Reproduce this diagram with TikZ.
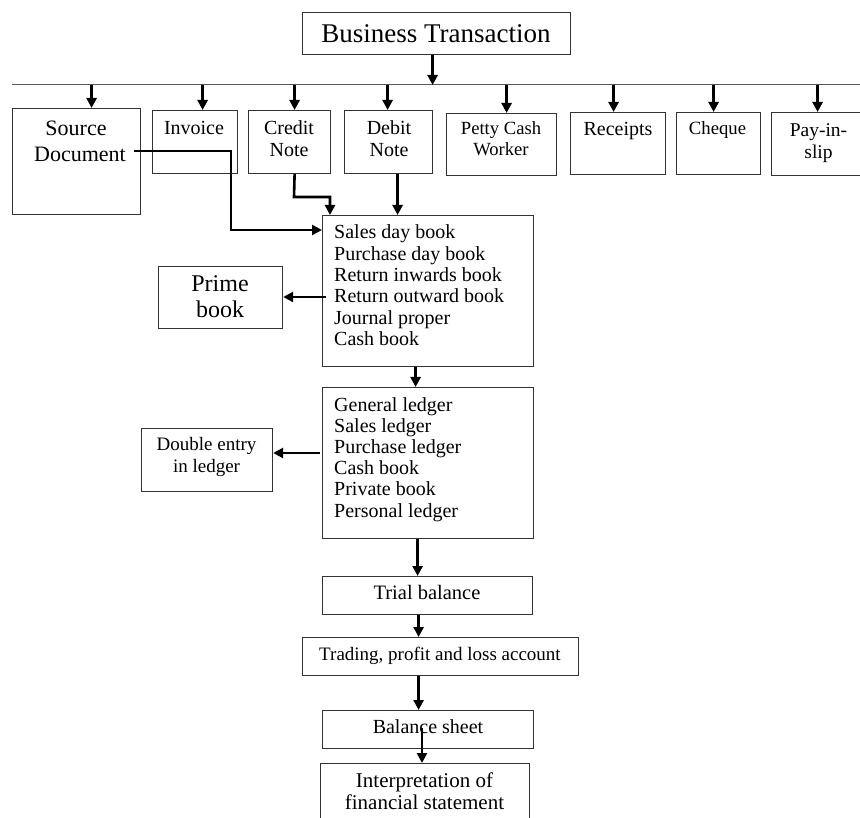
\documentclass[tikz,border=0pt]{standalone}
\usepackage{fontspec}
\setmainfont{Liberation Serif}
\usetikzlibrary{arrows.meta}
\begin{document}
\begin{tikzpicture}[x=1pt,y=-1pt,
  box/.style={draw=black!80, line width=1.2pt, anchor=north west, inner sep=0pt},
  arr/.style={line width=2.6pt, -{Triangle[length=10pt,width=10pt]}},
  txt/.style={anchor=base, inner sep=0pt},
  fs/.style={font=\fontsize{#1}{#1}\selectfont},
]
\useasboundingbox (0,0) rectangle (860,818);

% boxes
\node[box, minimum width=268, minimum height=42] (bt) at (302,12) {};
\node[box, minimum width=128, minimum height=106] (src) at (12,108) {};
\node[box, minimum width=85, minimum height=63] (inv) at (152,110) {};
\node[box, minimum width=82, minimum height=63] (cn) at (248,110) {};
\node[box, minimum width=88, minimum height=63] (dn) at (344,110) {};
\node[box, minimum width=110, minimum height=62] (pc) at (446,113) {};
\node[box, minimum width=95, minimum height=62] (rc) at (570,112) {};
\node[box, minimum width=84, minimum height=62] (ch) at (676,112) {};
\node[box, minimum width=95, minimum height=63] (pis) at (771,112) {};
\node[box, minimum width=211, minimum height=151] (sales) at (322,215) {};
\node[box, minimum width=124, minimum height=62] (prime) at (158,266) {};
\node[box, minimum width=211, minimum height=151] (ledger) at (322,387) {};
\node[box, minimum width=131, minimum height=63] (de) at (141,428) {};
\node[box, minimum width=210, minimum height=38] (trial) at (322,576) {};
\node[box, minimum width=276, minimum height=38] (tpl) at (302,637) {};
\node[box, minimum width=211, minimum height=38] (bs) at (322,710) {};
\node[box, minimum width=209, minimum height=67] (interp) at (320,763) {};

% texts
\node[txt, fs=27] (btt) at (436,43) {Business Transaction};
\node[txt, fs=22] (srct1) at (76,136) {Source};
\node[txt, fs=22] (srct2) at (80,162) {Document};
\node[txt, fs=20] (invt) at (194,135) {Invoice};
\node[txt, fs=20] (cnt1) at (289,135) {Credit};
\node[txt, fs=20] (cnt2) at (289,157) {Note};
\node[txt, fs=20] (dnt1) at (389,135) {Debit};
\node[txt, fs=20] (dnt2) at (389,157) {Note};
\node[txt, fs=18.6] (pct1) at (501,135) {Petty Cash};
\node[txt, fs=18.6] (pct2) at (501,156) {Worker};
\node[txt, fs=20] (rct) at (618,136) {Receipts};
\node[txt, fs=18.7] (cht) at (717.5,135) {Cheque};
\node[txt, fs=19.5] (pist1) at (818.5,137) {Pay-in-};
\node[txt, fs=19.5] (pist2) at (818.5,159) {slip};
\foreach \t [count=\i from 0] in {Sales day book, Purchase day book, Return inwards book, Return outward book, Journal proper, Cash book}
  \node[txt, fs=20, anchor=base west] (salest\i) at (334,239+21.3*\i) {\t};
\node[txt, fs=24] (primet1) at (220,292) {Prime};
\node[txt, fs=24] (primet2) at (220,318) {book};
\foreach \t [count=\i from 0] in {General ledger, Sales ledger, Purchase ledger, Cash book, Private book, Personal ledger}
  \node[txt, fs=20, anchor=base west] (ledgert\i) at (334,411+21.2*\i) {\t};
\node[txt, fs=19] (det1) at (206.5,450) {Double entry};
\node[txt, fs=19] (det2) at (206.5,472) {in ledger};
\node[txt, fs=20.5] (trialt) at (427,599) {Trial balance};
\node[txt, fs=19] (tplt) at (440,660) {Trading, profit and loss account};
\node[txt, fs=20] (bst) at (428,733) {Balance sheet};
\node[txt, fs=21] (interpt1) at (424.5,787) {Interpretation of};
\node[txt, fs=21] (interpt2) at (424.5,809) {financial statement};

% distribution line
\coordinate (hlL) at (12,84);
\coordinate (hlR) at (860,84);
\draw[line width=0.9pt, black!65] (hlL) -- (hlR);
\coordinate (hl) at (0,85);

\coordinate (btout) at ([xshift=-4pt]bt.south);
\draw[arr] (btout) -- (btout |- hl);

\coordinate (srcin) at ([xshift=15pt]src.north);
\coordinate (invin) at ([xshift=7.5pt]inv.north);
\coordinate (cnin) at ([xshift=5pt]cn.north);
\coordinate (dnin) at ([xshift=-1pt]dn.north);
\coordinate (pcin) at ([xshift=5pt]pc.north);
\coordinate (rcin) at ([xshift=-4.5pt]rc.north);
\coordinate (chin) at ([xshift=-5pt]ch.north);
\coordinate (pisin) at ([xshift=-1.5pt]pis.north);
\foreach \n in {srcin,invin,cnin,dnin,pcin,rcin,chin,pisin}
  \draw[arr] (\n |- hl) -- (\n);

% source document to sales
\coordinate (srcout) at (134,151);
\coordinate (sd1) at (231,151);
\coordinate (sd2) at (231,230);
\draw[arr] (srcout) -- (sd1) -- (sd2) -- (sd2 -| sales.west);

% credit note to sales
\coordinate (cnout) at ([xshift=5pt]cn.south);
\coordinate (cn1) at (294,197);
\coordinate (cn2) at (330,197);
\draw[arr] (cnout) -- (cn1) -- (cn2) -- (cn2 |- sales.north);

% debit note to sales
\coordinate (dnout) at ([xshift=9pt]dn.south);
\draw[arr] (dnout) -- (dnout |- sales.north);

% sales to prime
\coordinate (pbout) at (326,297);
\draw[arr] (pbout) -- (pbout -| prime.east);

% sales to ledger
\coordinate (slout) at ([xshift=-12.5pt]sales.south);
\draw[arr] (slout) -- (slout |- ledger.north);

% ledger to double entry
\coordinate (deout) at (320,453);
\draw[arr] (deout) -- (deout -| de.east);

% chain
\coordinate (lgout) at ([xshift=-10.5pt]ledger.south);
\draw[arr] (lgout) -- (lgout |- trial.north);
\coordinate (trout) at ([xshift=-9pt]trial.south);
\draw[arr] (trout) -- (trout |- tpl.north);
\coordinate (tplout) at ([xshift=-22pt]tpl.south);
\draw[arr] (tplout) -- (tplout |- bs.north);
\coordinate (bsout) at (422,728);
\draw[arr] (bsout) -- (bsout |- interp.north);
\end{tikzpicture}
\end{document}
